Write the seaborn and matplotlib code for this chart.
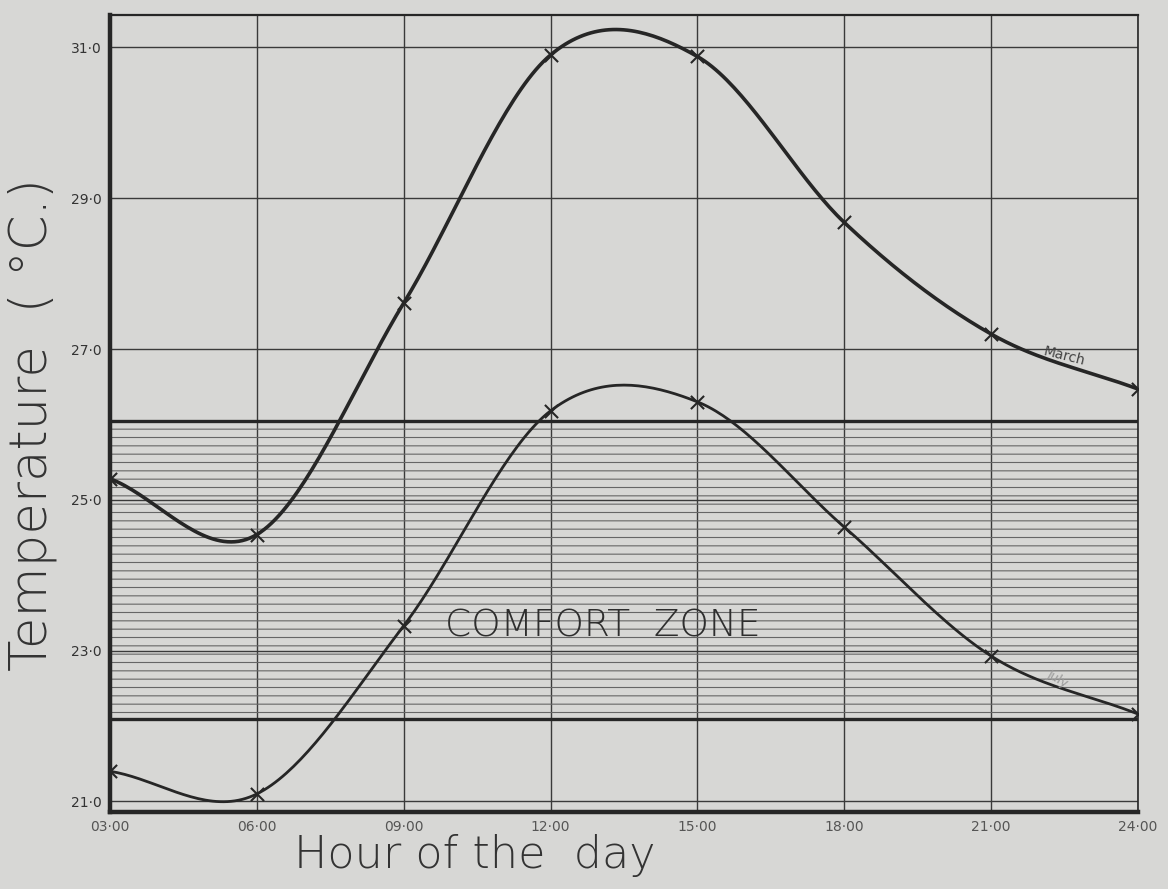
import numpy as np
import pandas as pd
import matplotlib
matplotlib.use("Agg")
import matplotlib.pyplot as plt
import seaborn as sns

# valeurs
hours = [3, 6, 9, 12, 15, 18, 21, 24]
hour_labels = ["03·00", "06·00", "09·00", "12·00", "15·00", "18·00", "21·00", "24·00"]
march_temp = [25.28, 24.54, 27.61, 30.90, 30.88, 28.68, 27.20, 26.47]
july_temp = [21.40, 21.10, 23.33, 26.18, 26.30, 24.64, 22.93, 22.16]
temp_ticks = [21, 23, 25, 27, 29, 31]
temp_labels = ["21·0", "23·0", "25·0", "27·0", "29·0", "31·0"]
comfort_low = 22.1
comfort_high = 26.05


def smooth_curve(x, y, n=40):
    """Courbe de Catmull-Rom (Hermite) passant par les points, pour le tracé lisse."""
    x = np.asarray(x, float)
    y = np.asarray(y, float)
    k = len(x)
    d = np.zeros(k)
    d[0] = (y[1] - y[0]) / (x[1] - x[0])
    d[-1] = (y[-1] - y[-2]) / (x[-1] - x[-2])
    d[1:-1] = (y[2:] - y[:-2]) / (x[2:] - x[:-2])
    xs_all, ys_all = [], []
    for i in range(k - 1):
        h = x[i + 1] - x[i]
        t = np.linspace(0, 1, n, endpoint=(i == k - 2))
        h00 = 2 * t**3 - 3 * t**2 + 1
        h10 = t**3 - 2 * t**2 + t
        h01 = -2 * t**3 + 3 * t**2
        h11 = t**3 - t**2
        xs_all.append(x[i] + t * h)
        ys_all.append(h00 * y[i] + h10 * h * d[i] + h01 * y[i + 1] + h11 * h * d[i + 1])
    return np.concatenate(xs_all), np.concatenate(ys_all)


paper = "#d7d7d5"
ink = "#262626"

sns.set_style("white")
plt.rcParams["font.family"] = ["DejaVu Sans"]
plt.rcParams["hatch.color"] = "#666666"
plt.rcParams["hatch.linewidth"] = 0.8

fig = plt.figure(figsize=(11.68, 8.89), dpi=100, facecolor=paper)
ax = fig.add_axes([0.0942, 0.0866, 0.880, 0.8965])
ax.set_facecolor(paper)

# zone de confort hachurée
ax.fill_between([hours[0], hours[-1]], comfort_low, comfort_high,
                facecolor="none", edgecolor="#666666", hatch="--", linewidth=0)
ax.axhline(comfort_high, color=ink, lw=2.4, zorder=3)
ax.axhline(comfort_low, color=ink, lw=2.4, zorder=3)

# courbes lissées
df = pd.DataFrame({"hour": hours, "March": march_temp, "July": july_temp})
for col, lw in [("March", 2.6), ("July", 2.0)]:
    xs, ys = smooth_curve(df["hour"], df[col])
    sns.lineplot(x=xs, y=ys, ax=ax, color=ink, lw=lw, sort=False, zorder=4)
    sns.scatterplot(x=df["hour"], y=df[col], ax=ax, marker="x", s=90,
                    color=ink, linewidth=1.5, zorder=5)

ax.set_xlim(3, 24)
ax.set_ylim(20.86, 31.43)
ax.set_xticks(hours)
ax.set_xticklabels(hour_labels, fontsize=10, color="#555555")
ax.set_yticks(temp_ticks)
ax.set_yticklabels(temp_labels, fontsize=10, color="#333333")
ax.set_xlabel("")
ax.set_ylabel("")
ax.tick_params(axis="both", length=0, pad=6)
ax.grid(True, color="#3a3a3a", lw=1.0)
ax.set_axisbelow(True)

for side, w in [("left", 3.2), ("bottom", 3.2), ("top", 1.6), ("right", 1.2)]:
    ax.spines[side].set_color(ink)
    ax.spines[side].set_linewidth(w)

ax.text(9.84, 23.33, "COMFORT  ZONE", fontsize=27, color="#2e2e2e",
        fontweight="light", va="center", ha="left", zorder=6)
ax.text(22.5, 26.9, "March", fontsize=10, color="#444444", rotation=-14,
        ha="center", va="center", zorder=6)
ax.text(22.35, 22.62, "July", fontsize=9, color="#9a9a9a", rotation=-30,
        ha="center", va="center", zorder=6)

fig.text(0.028, 0.522, "Temperature  ( °C.)", rotation=90, fontsize=37,
         fontweight="light", color="#333333", ha="center", va="center")
fig.text(0.252, 0.038, "Hour of the  day", fontsize=32, fontweight="light",
         color="#333333", ha="left", va="center")

fig.savefig("out.png", dpi=100, facecolor=paper)
